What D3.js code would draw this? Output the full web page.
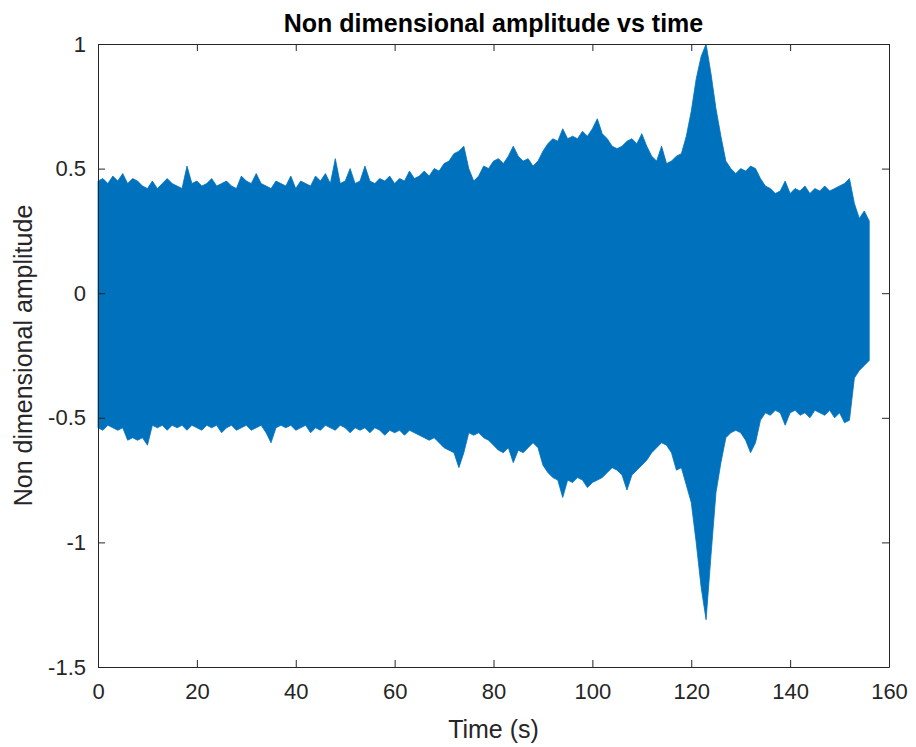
<!DOCTYPE html>
<html>
<head>
<meta charset="utf-8">
<script src="https://cdn.jsdelivr.net/npm/d3@7"></script>
<style>
  body { margin: 0; background: #fff; }
  svg { display: block; font-family: "Liberation Sans", Arial, Helvetica, sans-serif; }
</style>
</head>
<body>
<div id="graph"></div>
<script>
// sample times (s), one per second
var timeS = [0,1,2,3,4,5,6,7,8,9,10,11,12,13,14,15,16,17,18,19,20,21,22,23,24,25,26,27,28,29,
  30,31,32,33,34,35,36,37,38,39,40,41,42,43,44,45,46,47,48,49,50,51,52,53,54,55,56,57,58,59,
  60,61,62,63,64,65,66,67,68,69,70,71,72,73,74,75,76,77,78,79,80,81,82,83,84,85,86,87,88,89,
  90,91,92,93,94,95,96,97,98,99,100,101,102,103,104,105,106,107,108,109,110,111,112,113,114,
  115,116,117,118,119,120,121,122,123,124,125,126,127,128,129,130,131,132,133,134,135,136,137,
  138,139,140,141,142,143,144,145,146,147,148,149,150,151,152,153,154,155,156];

// upper envelope of the oscillation
var upperAmp = [0.45,0.46,0.44,0.47,0.45,0.48,0.44,0.46,0.45,0.43,0.42,0.45,0.42,0.44,0.46,0.44,0.43,0.42,0.51,0.44,
  0.45,0.43,0.44,0.46,0.43,0.44,0.45,0.43,0.42,0.47,0.45,0.44,0.48,0.44,0.43,0.42,0.45,0.44,0.43,0.47,
  0.42,0.45,0.44,0.43,0.47,0.45,0.48,0.44,0.54,0.44,0.45,0.50,0.44,0.45,0.51,0.45,0.44,0.46,0.45,0.47,
  0.44,0.46,0.45,0.49,0.46,0.47,0.49,0.47,0.50,0.49,0.52,0.53,0.56,0.57,0.59,0.50,0.45,0.47,0.51,0.50,
  0.53,0.54,0.52,0.55,0.59,0.55,0.53,0.54,0.51,0.53,0.57,0.60,0.62,0.61,0.66,0.62,0.63,0.62,0.65,0.63,
  0.66,0.70,0.64,0.62,0.59,0.58,0.59,0.61,0.62,0.60,0.64,0.59,0.55,0.53,0.59,0.52,0.53,0.55,0.56,0.63,
  0.73,0.86,0.95,1.00,0.88,0.74,0.63,0.53,0.50,0.48,0.50,0.49,0.51,0.50,0.46,0.43,0.42,0.40,0.41,0.45,
  0.40,0.42,0.41,0.43,0.40,0.42,0.41,0.43,0.41,0.42,0.43,0.44,0.46,0.36,0.30,0.33,0.29];

// lower envelope of the oscillation
var lowerAmp = [-0.54,-0.55,-0.53,-0.54,-0.55,-0.54,-0.59,-0.58,-0.59,-0.58,-0.61,-0.53,-0.54,-0.53,-0.55,-0.53,-0.54,-0.53,-0.55,-0.53,
  -0.54,-0.55,-0.53,-0.54,-0.53,-0.56,-0.54,-0.53,-0.55,-0.54,-0.53,-0.55,-0.54,-0.53,-0.56,-0.60,-0.54,-0.53,-0.54,-0.53,
  -0.55,-0.54,-0.53,-0.56,-0.54,-0.55,-0.53,-0.54,-0.55,-0.53,-0.54,-0.56,-0.54,-0.55,-0.54,-0.56,-0.54,-0.55,-0.57,-0.55,
  -0.56,-0.55,-0.57,-0.55,-0.56,-0.57,-0.58,-0.59,-0.58,-0.60,-0.62,-0.63,-0.64,-0.70,-0.64,-0.56,-0.57,-0.56,-0.58,-0.59,
  -0.61,-0.63,-0.64,-0.62,-0.68,-0.63,-0.64,-0.62,-0.60,-0.62,-0.69,-0.72,-0.74,-0.75,-0.82,-0.75,-0.76,-0.74,-0.75,-0.78,
  -0.76,-0.75,-0.74,-0.72,-0.70,-0.71,-0.73,-0.79,-0.73,-0.71,-0.69,-0.67,-0.64,-0.62,-0.60,-0.61,-0.64,-0.71,-0.70,-0.77,
  -0.84,-1.00,-1.18,-1.31,-1.05,-0.80,-0.68,-0.58,-0.56,-0.55,-0.56,-0.59,-0.64,-0.60,-0.51,-0.48,-0.49,-0.47,-0.48,-0.53,
  -0.48,-0.47,-0.49,-0.48,-0.50,-0.47,-0.48,-0.49,-0.47,-0.50,-0.48,-0.52,-0.51,-0.34,-0.31,-0.29,-0.27];

var xTicks = [0,20,40,60,80,100,120,140,160];
var yTicks = [-1.5,-1,-0.5,0,0.5,1];

var titleText = "Non dimensional amplitude vs time";
var xLabel = "Time (s)";
var yLabel = "Non dimensional amplitude";

var W = 916, H = 747;
var margin = { top: 44, right: 27, bottom: 80, left: 98 },
    width = W - margin.left - margin.right,
    height = H - margin.top - margin.bottom;
var axisColor = "#262626";

var svg = d3.select("#graph")
    .append("svg")
    .attr("width", W)
    .attr("height", H);
svg.append("rect").attr("width", W).attr("height", H).attr("fill", "#fff");

var g = svg.append("g")
    .attr("transform", "translate(" + margin.left + "," + margin.top + ")");

var x = d3.scaleLinear().domain([0, 160]).range([0, width]);
var y = d3.scaleLinear().domain([-1.5, 1]).range([height, 0]);

var data = timeS.map(function (t, i) {
    return { t: t, hi: upperAmp[i], lo: lowerAmp[i] };
});

// the signal envelope
g.append("path")
    .datum(data)
    .attr("fill", "#0072BD")
    .attr("stroke", "#0072BD")
    .attr("stroke-width", 0.8)
    .attr("stroke-linejoin", "miter")
    .attr("d", d3.area()
        .x(function (d) { return x(d.t); })
        .y0(function (d) { return y(d.lo); })
        .y1(function (d) { return y(d.hi); })
    );

// axes, MATLAB style: inward ticks on all four sides
function styleAxis(sel) {
    sel.selectAll(".domain").attr("stroke", axisColor).attr("stroke-width", 1);
    sel.selectAll(".tick line").attr("stroke", axisColor);
    sel.selectAll(".tick text").attr("fill", axisColor).attr("font-size", 22);
}
var plainNum = function (d) { return String(d); };
g.append("g")
    .attr("transform", "translate(0," + height + ")")
    .call(d3.axisBottom(x).tickValues(xTicks).tickFormat(plainNum).tickSizeInner(-7).tickSizeOuter(0).tickPadding(16))
    .call(styleAxis);
g.append("g")
    .call(d3.axisLeft(y).tickValues(yTicks).tickFormat(plainNum).tickSizeInner(-7).tickSizeOuter(0).tickPadding(12))
    .call(styleAxis);
g.append("g")
    .call(d3.axisTop(x).tickValues(xTicks).tickFormat("").tickSizeInner(-7).tickSizeOuter(0))
    .call(styleAxis);
g.append("g")
    .attr("transform", "translate(" + width + ",0)")
    .call(d3.axisRight(y).tickValues(yTicks).tickFormat("").tickSizeInner(-7).tickSizeOuter(0))
    .call(styleAxis);

// title and labels
svg.append("text")
    .attr("x", margin.left + width / 2)
    .attr("y", 32)
    .attr("text-anchor", "middle")
    .attr("font-size", 25)
    .attr("font-weight", "bold")
    .attr("fill", "#000")
    .text(titleText);
svg.append("text")
    .attr("x", margin.left + width / 2)
    .attr("y", 738)
    .attr("text-anchor", "middle")
    .attr("font-size", 25)
    .attr("fill", axisColor)
    .text(xLabel);
svg.append("text")
    .attr("transform", "translate(32," + (margin.top + height / 2) + ") rotate(-90)")
    .attr("text-anchor", "middle")
    .attr("font-size", 25)
    .attr("fill", axisColor)
    .text(yLabel);
</script>
</body>
</html>
